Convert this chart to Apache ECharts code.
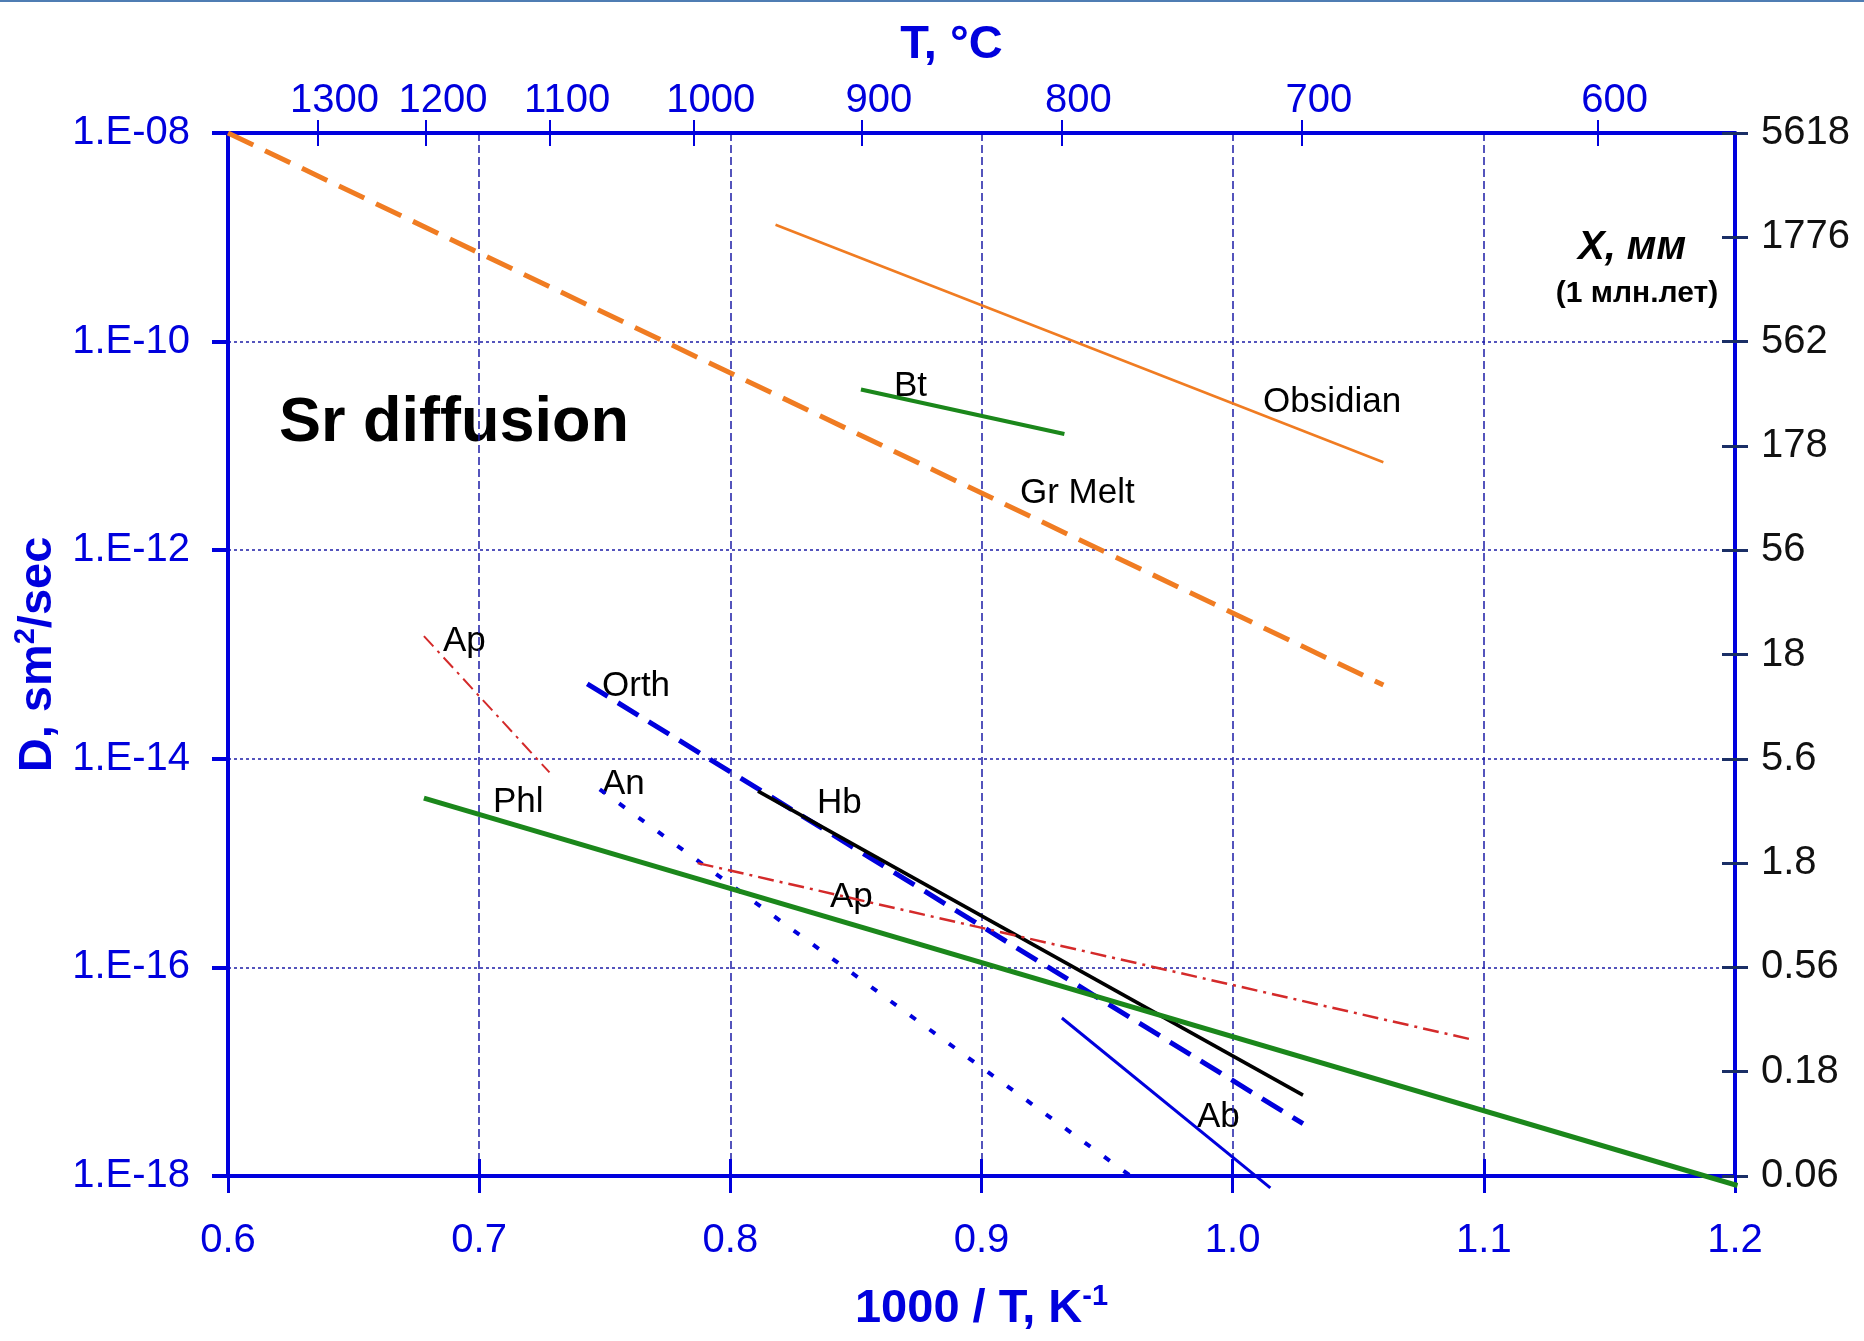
<!DOCTYPE html>
<html>
<head>
<meta charset="utf-8">
<script src="https://cdn.jsdelivr.net/npm/echarts@6/dist/echarts.min.js"></script>
<style>
html,body{margin:0;padding:0;background:#fff;}
#chart{width:1864px;height:1341px;}
</style>
</head>
<body>
<div id="chart"></div>
<script>
// ---------- DATA ----------
// x = 1000/T (K^-1), y = D (sm^2/sec)
const grMelt   = [[0.600, 1.0e-8],  [1.060, 5.1e-14]];
const obsidian = [[0.818, 1.32e-9], [1.060, 6.97e-12]];
const bt       = [[0.852, 3.47e-11],[0.933, 1.30e-11]];
const apHigh   = [[0.678, 1.50e-13],[0.728, 7.4e-15]];
const orth     = [[0.741, 5.6e-14], [1.028, 3.17e-18]];
const hb       = [[0.811, 4.9e-15], [1.028, 5.96e-18]];
const an       = [[0.748, 5.1e-15], [0.962, 9.0e-19]];
const ab       = [[0.932, 3.27e-17],[1.015, 7.7e-19]];
const phl      = [[0.678, 4.19e-15],[1.201, 8.1e-19]];
const apLow    = [[0.787, 1.0e-15], [1.095, 2.04e-17]];

const topTempTicks    = [1300, 1200, 1100, 1000, 900, 800, 700, 600];       // °C
const leftTickLabels  = ['1.E-18','1.E-16','1.E-14','1.E-12','1.E-10','1.E-08'];
const rightTickLabels = ['0.06','0.18','0.56','1.8','5.6','18','56','178','562','1776','5618'];

// ---------- STYLE ----------
const FONT = '"Liberation Sans", Arial, sans-serif';
const BLUE = '#0000dd';
const GRIDC = '#1c1ca6';
const ORANGE = '#f07c22';
const GREEN = '#1b871b';
const RED = '#d42a2a';

const topTickValues = topTempTicks.map(t => 1000 / (t + 273.15));
const expOf = v => Math.round(Math.log10(v));

function lineSeries(name, data, color, width, type, extra) {
  return Object.assign({
    name: name, type: 'line', data: data, xAxisIndex: 0, yAxisIndex: 0,
    symbol: 'none', showSymbol: false, silent: true, animation: false,
    lineStyle: { color: color, width: width, type: type, cap: 'butt' }
  }, extra || {});
}

const chart = echarts.init(document.getElementById('chart'), null, { renderer: 'canvas' });

const xBase = { type: 'value', min: 0.6, max: 1.2, interval: 0.1 };
const yBase = { type: 'log', logBase: 10, min: 1e-18, max: 1e-8 };

const option = {
  backgroundColor: '#ffffff',
  animation: false,
  textStyle: { fontFamily: FONT },
  grid: { left: 228, right: 129, top: 133, bottom: 165, containLabel: false },
  xAxis: [
    Object.assign({}, xBase, {
      position: 'bottom',
      axisLine: { show: true, onZero: false, lineStyle: { color: BLUE, width: 4 } },
      axisTick: { show: true, length: 17, lineStyle: { color: BLUE, width: 3 } },
      axisLabel: { color: BLUE, fontSize: 40, fontFamily: FONT, margin: 45,
                   formatter: v => v.toFixed(1) },
      splitLine: { show: true, lineStyle: { color: GRIDC, width: 1.5, type: [8, 4] } },
      name: '{a|1000 / T, K}{s|-1}',
      nameLocation: 'middle',
      nameGap: 106,
      nameTextStyle: {
        rich: {
          a: { fontSize: 47, fontWeight: 'bold', color: BLUE, fontFamily: FONT },
          s: { fontSize: 29, fontWeight: 'bold', color: BLUE, fontFamily: FONT, padding: [0, 0, 26, 0] }
        }
      }
    }),
    Object.assign({}, xBase, {
      position: 'bottom',
      axisLine: { show: false, onZero: false },
      axisTick: { show: true, inside: true, length: 17, lineStyle: { color: BLUE, width: 3 } },
      axisLabel: { show: false },
      splitLine: { show: false }
    }),
    Object.assign({}, xBase, {
      position: 'top',
      axisLine: { show: true, onZero: false, lineStyle: { color: BLUE, width: 4 } },
      axisTick: { show: true, length: 13, customValues: topTickValues, lineStyle: { color: BLUE, width: 2 } },
      axisLabel: { show: true, customValues: topTickValues, color: BLUE, fontSize: 40, fontFamily: FONT,
                   margin: 12, padding: [0, 0, 0, 34],
                   formatter: v => String(Math.round(1000 / v - 273.15)) },
      splitLine: { show: false },
      name: 'T, °C',
      nameLocation: 'middle',
      nameGap: 64,
      nameTextStyle: { color: BLUE, fontSize: 47, fontWeight: 'bold', fontFamily: FONT, padding: [0, 60, 0, 0] }
    }),
    Object.assign({}, xBase, {
      position: 'top',
      axisLine: { show: false, onZero: false },
      axisTick: { show: true, inside: true, length: 13, customValues: topTickValues, lineStyle: { color: BLUE, width: 2 } },
      axisLabel: { show: false },
      splitLine: { show: false }
    })
  ],
  yAxis: [
    Object.assign({}, yBase, {
      position: 'left',
      interval: 2,
      axisLine: { show: true, onZero: false, lineStyle: { color: BLUE, width: 4 } },
      axisTick: { show: true, length: 16, lineStyle: { color: BLUE, width: 4 } },
      axisLabel: { color: BLUE, fontSize: 40, fontFamily: FONT, margin: 38,
                   formatter: v => leftTickLabels[(expOf(v) + 18) / 2] },
      splitLine: { show: true, lineStyle: { color: GRIDC, width: 1.5, type: [3, 3] } },
      name: '{a|D, sm}{s|2}{a|/sec}',
      nameLocation: 'middle',
      nameRotate: 90,
      nameGap: 160,
      nameTextStyle: {
        rich: {
          a: { fontSize: 47, fontWeight: 'bold', color: BLUE, fontFamily: FONT },
          s: { fontSize: 29, fontWeight: 'bold', color: BLUE, fontFamily: FONT, padding: [0, 0, 24, 0] }
        }
      }
    }),
    Object.assign({}, yBase, {
      position: 'right',
      interval: 1,
      axisLine: { show: true, onZero: false, lineStyle: { color: BLUE, width: 4 } },
      axisTick: { show: true, length: 13, lineStyle: { color: '#1b2f66', width: 3 } },
      axisLabel: { color: '#111111', fontSize: 40, fontFamily: FONT, margin: 26,
                   formatter: v => rightTickLabels[expOf(v) + 18] },
      splitLine: { show: false }
    }),
    Object.assign({}, yBase, {
      position: 'right',
      interval: 1,
      axisLine: { show: false, onZero: false },
      axisTick: { show: true, inside: true, length: 13, lineStyle: { color: '#1b2f66', width: 3 } },
      axisLabel: { show: false },
      splitLine: { show: false }
    })
  ],
  series: [
    lineSeries('Gr Melt', grMelt, ORANGE, 5, [28, 13]),
    lineSeries('Obsidian', obsidian, ORANGE, 2.5),
    lineSeries('Bt', bt, GREEN, 4, 'solid'),
    lineSeries('Ap', apHigh, RED, 2, [14, 6, 3, 6]),
    lineSeries('Orth', orth, BLUE, 5, [24, 12], { lineStyle: { color: BLUE, width: 5, type: [24, 12], dashOffset: 30 } }),
    lineSeries('Hb', hb, '#000000', 3.5, 'solid'),
    lineSeries('An', an, BLUE, 4, [7, 17], { clip: false }),
    lineSeries('Ab', ab, BLUE, 3, 'solid', { clip: false }),
    lineSeries('Phl', phl, GREEN, 5, 'solid', { clip: false }),
    lineSeries('Ap low', apLow, RED, 2.5, [16, 6, 3, 6])
  ],
  graphic: [
    { type: 'rect', shape: { x: 0, y: 0, width: 1864, height: 2 }, style: { fill: '#4f7db3' }, silent: true },
    { type: 'text', x: 279, y: 424, style: { text: 'Sr diffusion', font: 'bold 63px ' + FONT, fill: '#000', align: 'left', verticalAlign: 'middle' } },
    { type: 'text', x: 1632, y: 248, style: { text: 'X, мм', font: 'italic bold 40px ' + FONT, fill: '#000', align: 'center', verticalAlign: 'middle' } },
    { type: 'text', x: 1637, y: 294, style: { text: '(1 млн.лет)', font: 'bold 30px ' + FONT, fill: '#000', align: 'center', verticalAlign: 'middle' } },
    { type: 'text', x: 1263, y: 402, style: { text: 'Obsidian', font: '35px ' + FONT, fill: '#000', align: 'left', verticalAlign: 'middle' } },
    { type: 'text', x: 1020, y: 493, style: { text: 'Gr Melt', font: '35px ' + FONT, fill: '#000', align: 'left', verticalAlign: 'middle' } },
    { type: 'text', x: 894, y: 386, style: { text: 'Bt', font: '35px ' + FONT, fill: '#000', align: 'left', verticalAlign: 'middle' } },
    { type: 'text', x: 443, y: 641, style: { text: 'Ap', font: '35px ' + FONT, fill: '#000', align: 'left', verticalAlign: 'middle' } },
    { type: 'text', x: 602, y: 686, style: { text: 'Orth', font: '35px ' + FONT, fill: '#000', align: 'left', verticalAlign: 'middle' } },
    { type: 'text', x: 602, y: 784, style: { text: 'An', font: '35px ' + FONT, fill: '#000', align: 'left', verticalAlign: 'middle' } },
    { type: 'text', x: 493, y: 802, style: { text: 'Phl', font: '35px ' + FONT, fill: '#000', align: 'left', verticalAlign: 'middle' } },
    { type: 'text', x: 817, y: 803, style: { text: 'Hb', font: '35px ' + FONT, fill: '#000', align: 'left', verticalAlign: 'middle' } },
    { type: 'text', x: 830, y: 897, style: { text: 'Ap', font: '35px ' + FONT, fill: '#000', align: 'left', verticalAlign: 'middle' } },
    { type: 'text', x: 1197, y: 1117, style: { text: 'Ab', font: '35px ' + FONT, fill: '#000', align: 'left', verticalAlign: 'middle' } }
  ]
};
chart.setOption(option);
</script>
</body>
</html>
